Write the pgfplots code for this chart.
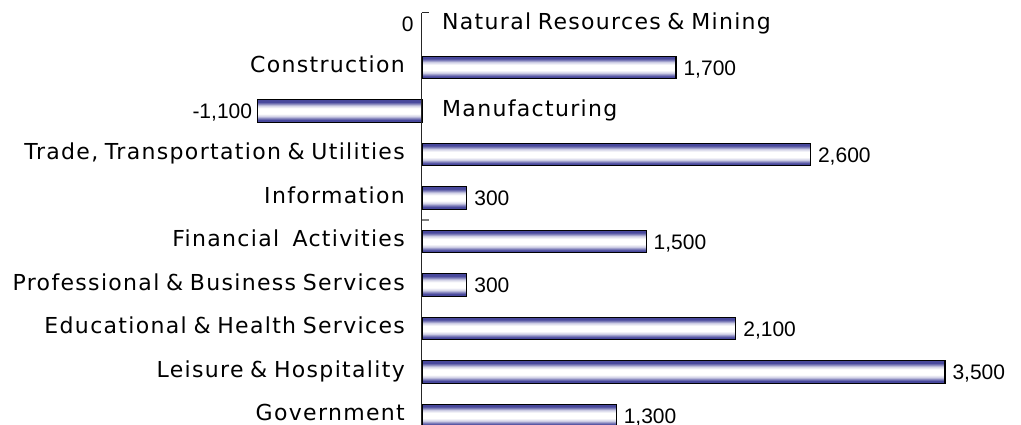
\documentclass[border=0pt]{standalone}
\usepackage{pgfplots}
\pgfplotsset{compat=1.18}
\usepackage{fontspec}
\setmainfont{Liberation Sans}
\newfontfamily\catfont[LetterSpace=6,WordSpace=0.8]{DejaVu Sans}
\definecolor{barblue}{RGB}{72,72,156}
\definecolor{barmid}{RGB}{133,133,189}
\definecolor{barlav}{RGB}{207,207,229}
\pgfdeclareverticalshading{barshade}{100bp}{color(0bp)=(barblue); color(25bp)=(barblue);
  color(30bp)=(barblue); color(34bp)=(barmid); color(38bp)=(barlav); color(44bp)=(white);
  color(56bp)=(white); color(62bp)=(barlav); color(66bp)=(barmid); color(70bp)=(barblue);
  color(75bp)=(barblue); color(100bp)=(barblue)}
\tikzset{
  catl/.style={anchor=base east, inner sep=0pt, yshift=-5bp, xshift=-17bp,
    font=\catfont\fontsize{22bp}{26bp}\selectfont},
  catr/.style={anchor=base west, inner sep=0pt, yshift=-5bp, xshift=20bp,
    font=\catfont\fontsize{22bp}{26bp}\selectfont},
}
\pgfplotsset{
  posl/.style={every node near coord/.style={anchor=base west, yshift=-7.5bp, xshift=7bp,
    inner sep=0pt, font=\fontsize{21bp}{24bp}\selectfont, text=black}},
  negl/.style={every node near coord/.style={anchor=base east, yshift=-7.5bp, xshift=-5bp,
    inner sep=0pt, font=\fontsize{21bp}{24bp}\selectfont, text=black}},
  zerol/.style={every node near coord/.style={anchor=base east, yshift=-7.5bp, xshift=-8bp,
    inner sep=0pt, font=\fontsize{21bp}{24bp}\selectfont, text=black}},
}
\begin{document}
\begin{tikzpicture}
\begin{axis}[
  scale only axis, width=687.4bp, height=435bp,
  at={(257.6bp,422.75bp)}, anchor=north west,
  xmin=-1100, xmax=3500, ymin=-0.5, ymax=9.5, y dir=reverse,
  axis lines=none, clip=false,
  every axis plot/.append style={xbar, bar width=22.5bp, bar shift=0pt,
    draw=black, line width=1.1bp, shade, shading=barshade,
    nodes near coords, point meta=explicit symbolic},
]
\addplot[zerol, draw=none, fill=none, shading=none]
  coordinates {(0,0) [0]};
\addplot[posl] coordinates {(1700,1) [1,700]};
\addplot[negl] coordinates {(-1100,2) [-1,100]};
\addplot[posl] coordinates {(2600,3) [2,600]};
\addplot[posl] coordinates {(300,4) [300]};
\addplot[posl] coordinates {(1500,5) [1,500]};
\addplot[posl] coordinates {(300,6) [300]};
\addplot[posl] coordinates {(2100,7) [2,100]};
\addplot[posl] coordinates {(3500,8) [3,500]};
\addplot[posl] coordinates {(1300,9) [1,300]};
\node[catr] at (axis cs:0,0) {Natural Resources \& Mining};
\node[catl] at (axis cs:0,1) {Construction};
\node[catr] at (axis cs:0,2) {Manufacturing};
\node[catl] at (axis cs:0,3) {Trade, Transportation \& Utilities};
\node[catl] at (axis cs:0,4) {Information};
\node[catl] at (axis cs:0,5) {Financial\ \ Activities};
\node[catl] at (axis cs:0,6) {Professional \& Business Services};
\node[catl] at (axis cs:0,7) {Educational \& Health Services};
\node[catl] at (axis cs:0,8) {Leisure \& Hospitality};
\node[catl] at (axis cs:0,9) {Government};
\draw[black!85, line width=1bp] (axis cs:0,-0.26) -- (axis cs:0,9.7);
\draw[black!85, line width=1bp] (axis cs:0,-0.26) -- ([xshift=7bp]axis cs:0,-0.26);
\draw[black!50, line width=1.5bp] (axis cs:0,4.5) -- ([xshift=7bp]axis cs:0,4.5);
\end{axis}
\pgfresetboundingbox
\path[use as bounding box] (0,0) rectangle (1021bp,425bp);
\end{tikzpicture}
\end{document}
